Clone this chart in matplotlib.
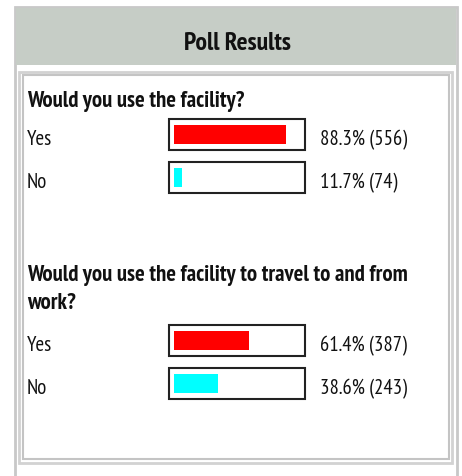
import matplotlib
matplotlib.use("Agg")
import matplotlib.pyplot as plt
from matplotlib.patches import Rectangle

# ---------------------------------------------------------------
# data
# ---------------------------------------------------------------
title = "Poll Results"
questions = ["Would you use the facility?",
             "Would you use the facility to travel to and from\nwork?"]
options = ["Yes", "No"]
q1_pct = [88.3, 11.7]
q1_votes = [556, 74]
q2_pct = [61.4, 38.6]
q2_votes = [387, 243]
bar_colors = ["#ff0000", "#00ffff"]

W, H = 462, 476
NARROW = ["PT Sans Narrow", "DejaVu Sans"]
INK = "#111111"

fig = plt.figure(figsize=(W / 100, H / 100), dpi=100)
fig.patch.set_facecolor("white")

# background axes in pixel coordinates for the panel
bg = fig.add_axes([0, 0, 1, 1])
bg.set_xlim(0, W)
bg.set_ylim(H, 0)
bg.axis("off")

# outer panel + header band
bg.add_patch(Rectangle((15, 7), 442, 480, facecolor="white",
                       edgecolor="#c8c8c8", linewidth=2))
bg.add_patch(Rectangle((16, 8), 440, 57, facecolor="#c6cdc6",
                       edgecolor="none"))
bg.text(237, 50, title, ha="center", va="baseline", fontsize=18.5,
        fontweight="bold", family=NARROW, color=INK)

# inner box with double grey border
bg.add_patch(Rectangle((19, 72), 433, 391, facecolor="white",
                       edgecolor="#d2d2d2", linewidth=2))
bg.add_patch(Rectangle((23, 75), 426, 384, facecolor="white",
                       edgecolor="#c4c4c4", linewidth=1.5))


def px_axes(x0, y0, x1, y1):
    return fig.add_axes([x0 / W, 1 - y1 / H, (x1 - x0) / W, (y1 - y0) / H])


# bar scale: 0% sits at x=166 px, 1% = 1.358 px, the box pads the left end
PX0, PXU = 166, 1.358


def draw_question(text, base_y, row_top, pct, votes):
    for k, line in enumerate(text.split("\n")):
        bg.text(27, base_y + 28 * k, line, ha="left", va="baseline",
                fontsize=16.4, fontweight="bold", family=NARROW, color=INK)
    ax = px_axes(160, row_top, 310, row_top + 86)
    x_lo = (160 - PX0) / PXU
    ax.set_xlim(x_lo, (310 - PX0) / PXU)
    ax.set_ylim(1.5, -0.5)
    ax.axis("off")
    rows = list(range(len(options)))
    box_l = (169 - PX0) / PXU
    box_w = (305 - 169) / PXU
    pad_r = (174 - PX0) / PXU
    ax.barh(rows, pct, height=0.42, color=bar_colors, zorder=1)
    # white inner padding at the left end of each box
    ax.barh(rows, [pad_r - x_lo] * len(rows), left=x_lo, height=0.6,
            color="white", zorder=2)
    # outline boxes
    ax.barh(rows, [box_w] * len(rows), left=box_l, height=0.72,
            fill=False, edgecolor="#222222", linewidth=1.5, zorder=3)
    for i, lab in enumerate(options):
        yb = row_top + 32 + 43 * i
        bg.text(27, yb, lab, ha="left", va="baseline", fontsize=15,
                family=NARROW, color=INK)
        bg.text(320, yb, f"{pct[i]:.1f}% ({votes[i]})", ha="left",
                va="baseline", fontsize=14.9, family=NARROW, color=INK)


draw_question(questions[0], 107, 113, q1_pct, q1_votes)
draw_question(questions[1], 281, 319, q2_pct, q2_votes)

fig.savefig("out.png", dpi=100)
